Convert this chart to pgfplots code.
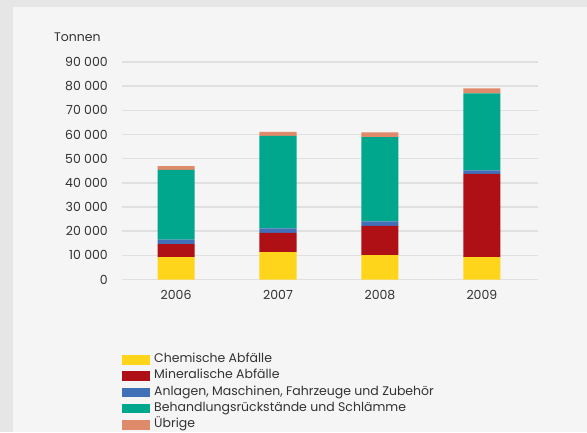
\documentclass[border=0pt]{standalone}
\usepackage{pgfplots}
\pgfplotsset{compat=1.18}
\usepackage{fontspec}
\setmainfont{Poppins}
\definecolor{cyel}{HTML}{FFD51C}
\definecolor{cred}{HTML}{AF1016}
\definecolor{cblu}{HTML}{4170B8}
\definecolor{ctea}{HTML}{00A78D}
\definecolor{cora}{HTML}{E08A6C}
\definecolor{cbgout}{HTML}{E6E6E6}
\definecolor{cbgin}{HTML}{F4F5F4}
\definecolor{cgrid}{HTML}{E0E0E0}
\definecolor{ctext}{HTML}{333333}
\begin{document}
\begin{tikzpicture}[x=1pt,y=1pt]
\fill[cbgout] (0,0) rectangle (587,432);
\fill[cbgin] (13,0) rectangle (587,425);
\node[anchor=west, font=\fontsize{12.5}{15}\selectfont, text=ctext, inner sep=0pt] at (54,395) {Tonnen};
\begin{axis}[
  at={(122pt,152.5pt)}, anchor=south west, scale only axis,
  width=416pt, height=217.5pt,
  xmin=-0.53, xmax=3.55, ymin=0, ymax=90000,
  axis line style={draw=none}, major tick length=0pt,
  ymajorgrids, grid style={color=cgrid, line width=1.5pt},
  xtick={0,1,2,3}, xticklabels={2006,2007,2008,2009},
  ytick={0,10000,20000,30000,40000,50000,60000,70000,80000,90000},
  yticklabels={0,10 000,20 000,30 000,40 000,50 000,60 000,70 000,80 000,90 000},
  scaled y ticks=false,
  ticklabel style={font=\fontsize{12.5}{15}\selectfont, text=ctext, inner sep=0pt},
  xticklabel style={anchor=north, yshift=-11pt},
  yticklabel style={anchor=east, xshift=-14pt},
  ybar stacked, bar width=0.363,
  legend style={at={(0,-0.331)}, anchor=north west, draw=none, fill=none,
    inner sep=0pt, row sep=0pt, font=\fontsize{12.5}{15}\selectfont, text=ctext,
    nodes={inner sep=0pt, text height=11pt, text depth=5.3pt},
    /tikz/every odd column/.append style={column sep=4pt}},
  legend cell align=left,
  legend image code/.code={\fill[#1,draw=none] (0pt,-4.75pt) rectangle (28pt,4.75pt);},
]
\addplot[fill=cyel, draw=none] coordinates {(0,9300) (1,11300) (2,10100) (3,9300)};
\addplot[fill=cred, draw=none] coordinates {(0,5300) (1,8000) (2,12100) (3,34400)};
\addplot[fill=cblu, draw=none] coordinates {(0,1900) (1,1900) (2,1900) (3,1500)};
\addplot[fill=ctea, draw=none] coordinates {(0,28900) (1,38200) (2,34800) (3,31800)};
\addplot[fill=cora, draw=none] coordinates {(0,1500) (1,1650) (2,1950) (3,2060)};
\legend{Chemische Abfälle, Mineralische Abfälle, {Anlagen, Maschinen, Fahrzeuge und Zubehör}, Behandlungsrückstände und Schlämme, Übrige}
\end{axis}
\pgfresetboundingbox
\useasboundingbox (0,0) rectangle (587,432);
\end{tikzpicture}
\end{document}
